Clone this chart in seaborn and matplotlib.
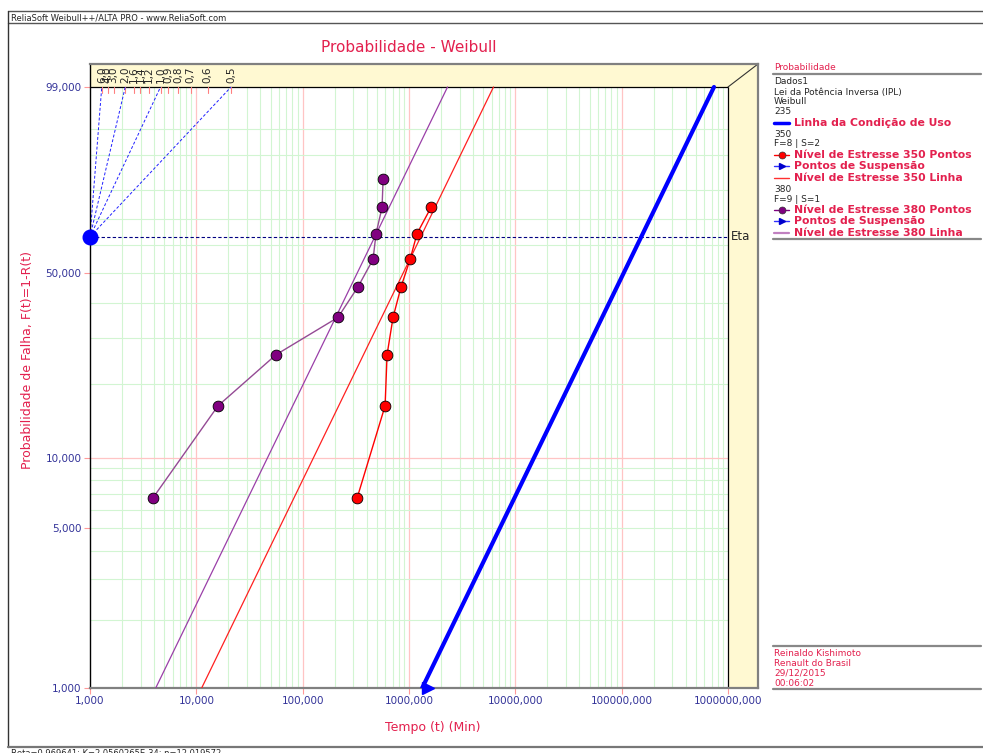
import numpy as np
import pandas as pd
import matplotlib
matplotlib.use("Agg")
import matplotlib.pyplot as plt
import seaborn as sns

# valores (tempo em Min, F em %)
f_350 = [6.73, 16.35, 25.96, 35.58, 45.19, 54.81, 64.42, 74.04]
t_350 = [325, 596, 622, 708, 843, 1024, 1190, 1610]
f_380 = [6.73, 16.35, 25.96, 35.58, 45.19, 54.81, 64.42, 74.04, 83.65]
t_380 = [3.9, 16.0, 56.2, 215, 332, 459, 490, 558, 571]
t_susp = [1510]
f_susp = [1.0]

niveis = ["235", "350", "380"]
eta = [152900, 1290, 477]
beta = 0.969641
beta_guia = [0.5, 1.0, 2.0, 6.0]
beta_escala = [0.5, 0.6, 0.7, 0.8, 0.9, 1.0, 1.2, 1.4, 1.6, 2.0, 3.0, 4.0, 6.0]

x_ticks = [1, 10, 100, 1000, 10000, 100000, 1000000]
y_ticks = [1, 5, 10, 50, 99]
y_grid = [2, 3, 4, 5, 6, 7, 8, 9, 20, 30, 40, 50, 60, 70, 80, 90, 95]

CRIMSON = "#E3204E"
NAVY = "#333399"
GREEN = "#D2F5D2"
PINK = "#FFC4C4"
CREAM = "#FFF9D2"

sns.set_style("white")
plt.rcParams["font.family"] = ["DejaVu Sans"]


def fwd(p):
    p = np.clip(np.asarray(p, dtype=float), 1e-6, 99.99999)
    return np.log(-np.log(1 - p / 100.0))


def inv(y):
    return 100.0 * (1 - np.exp(-np.exp(y)))


def weib_t(e, b, f):
    return e * (-np.log(1 - np.asarray(f) / 100.0)) ** (1.0 / b)


W, H = 983, 753
fig = plt.figure(figsize=(W / 100, H / 100), dpi=100)
ax = fig.add_axes([90 / W, 1 - 688 / H, (758 - 90) / W, (688 - 64) / H])
ax.set_xscale("log")
ax.set_yscale("function", functions=(fwd, inv))
xmax = 10 ** (6 + 30 / 106.3)
ytop = inv(np.log(-np.log(0.01)) + 23 / 98.1)
ax.set_xlim(1, xmax)
ax.set_ylim(1, ytop)

# faixas amarelas
ax.fill_between([1, xmax], 99, ytop, color=CREAM, lw=0, zorder=0)
ax.fill_between([1e6, xmax], 1, 99, color=CREAM, lw=0, zorder=0)
ax.plot([1e6, xmax], [99, ytop], color="#333333", lw=0.8, zorder=1)

# grade
for d in range(6):
    for m in range(2, 10):
        ax.vlines(m * 10 ** d, 1, 99, color=GREEN, lw=0.8, zorder=1)
    if d > 0:
        ax.vlines(10 ** d, 1, 99, color=PINK, lw=0.9, zorder=1)
ax.hlines(y_grid, 1, 1e6, color=GREEN, lw=0.8, zorder=1)
ax.hlines(10, 1, 1e6, color=PINK, lw=0.9, zorder=1)
ax.vlines(1e6, 1, 99, color="black", lw=0.9, zorder=2)
ax.hlines(99, 1, 1e6, color="black", lw=0.9, zorder=2)

# escala de beta
f_piv = inv(0.0)
for b in beta_escala:
    xb = weib_t(1, b, 99)
    ax.plot([xb, xb], [99, inv(np.log(-np.log(0.01)) - 0.06)], color="#FF8080", lw=0.8, zorder=2)
    ax.text(xb, 1 - 11 / 624, f"{b:.1f}".replace(".", ","), rotation=90, ha="center", va="center",
            fontsize=7.5, transform=ax.get_xaxis_transform())
for b in beta_guia:
    sns.lineplot(x=[1, weib_t(1, b, 99)], y=[f_piv, 99], ax=ax, color="#2020FF", lw=0.7,
                 linestyle=(0, (3, 2)), zorder=2)
ax.plot([1, 1e6], [f_piv, f_piv], color="#000080", lw=0.8, linestyle=(0, (3, 2)), zorder=2)
ax.plot([1], [f_piv], "o", color="#0000FF", ms=10.5, clip_on=False, zorder=6)
ax.text(1.07e6, f_piv, "Eta", fontsize=8.5, va="center", ha="left")

# linhas ajustadas
cores = ["#0000FF", "#FF2020", "#9A3FA8"]
larguras = [3.0, 0.9, 0.9]
for nv, e, c, lw in zip(niveis, eta, cores, larguras):
    fit = pd.DataFrame({"F": [1, 99]})
    fit["t"] = weib_t(e, beta, fit["F"])
    sns.lineplot(data=fit, x="t", y="F", ax=ax, color=c, lw=lw, sort=False, zorder=3)

# pontos
sns.lineplot(x=t_350, y=f_350, ax=ax, color="#FF0000", lw=1.0, sort=False, zorder=4)
sns.lineplot(x=t_380, y=f_380, ax=ax, color="#944A94", lw=1.0, sort=False, zorder=4)
sns.scatterplot(x=t_350, y=f_350, ax=ax, color="#FF0000", s=60, edgecolor="black", linewidth=0.6, zorder=5)
sns.scatterplot(x=t_380, y=f_380, ax=ax, color="#800080", s=60, edgecolor="black", linewidth=0.6, zorder=5)
ax.plot(t_susp, f_susp, ">", color="#0000FF", ms=8, clip_on=False, zorder=6)

# eixos
ax.set_xticks(x_ticks)
ax.set_xticklabels([f"{v:.3f}".replace(".", ",") for v in x_ticks])
ax.set_yticks(y_ticks)
ax.set_yticklabels([f"{v:.3f}".replace(".", ",") for v in y_ticks])
ax.xaxis.set_minor_locator(matplotlib.ticker.NullLocator())
ax.yaxis.set_minor_locator(matplotlib.ticker.NullLocator())
ax.tick_params(axis="both", labelsize=7.5, labelcolor=NAVY, color="#FF9999", length=4, width=0.8, pad=2,
               left=True, bottom=True)
for s in ["top", "right", "bottom"]:
    ax.spines[s].set_color("#808080")
    ax.spines[s].set_linewidth(1.6)
ax.spines["left"].set_color("black")
ax.spines["left"].set_linewidth(1.0)
ax.set_xlabel("")
ax.set_ylabel("")

fig.text(409 / W, 1 - 47 / H, "Probabilidade - Weibull", color=CRIMSON, fontsize=11, ha="center", va="center")
fig.text(433 / W, 1 - 727 / H, "Tempo (t) (Min)", color=CRIMSON, fontsize=9, ha="center", va="center")
fig.text(28 / W, 1 - 360 / H, "Probabilidade de Falha, F(t)=1-R(t)", color=CRIMSON, fontsize=9,
         rotation=90, ha="center", va="center")

# moldura e painel da direita (coordenadas em pixels)
ov = fig.add_axes([0, 0, 1, 1], zorder=10)
ov.set_xlim(0, W)
ov.set_ylim(H, 0)
ov.axis("off")
ov.patch.set_alpha(0)
ov.plot([8, W], [11, 11], color="#555555", lw=1)
ov.plot([8, W], [23, 23], color="#555555", lw=1)
ov.plot([8, 8], [11, 747], color="#333333", lw=1)
ov.plot([8, W], [747, 747], color="#777777", lw=1.6)
ov.text(11, 17.5, "ReliaSoft Weibull++/ALTA PRO - www.ReliaSoft.com", fontsize=6, va="center")
ov.text(11, 749, "Beta=0,969641; K=2,0560265E-34; n=12,019572", fontsize=6, va="top")

for yy in [74, 239, 646, 689]:
    ov.plot([773, 981], [yy, yy], color="#888888", lw=1.6)
ov.text(774, 67.7, "Probabilidade", color=CRIMSON, fontsize=6.5, va="center")
for yy, s in [(81.7, "Dados1"), (92.7, "Lei da Potência Inversa (IPL)"), (101.7, "Weibull"),
              (111.7, "235"), (134, "350"), (143.7, "F=8 | S=2"), (189, "380"), (199.3, "F=9 | S=1")]:
    ov.text(774, yy, s, fontsize=6.5, va="center")

leg = [(123.3, "Linha da Condição de Uso", "#0000FF", None, 2.5),
       (155, "Nível de Estresse 350 Pontos", "#FF0000", "o", 1.0),
       (166, "Pontos de Suspensão", "#3030FF", ">", 1.0),
       (178.3, "Nível de Estresse 350 Linha", "#FF3030", None, 1.0),
       (210.3, "Nível de Estresse 380 Pontos", "#800080", "o", 1.0),
       (221, "Pontos de Suspensão", "#3030FF", ">", 1.0),
       (233.3, "Nível de Estresse 380 Linha", "#C080C0", None, 1.6)]
for yy, s, c, mk, lw in leg:
    ov.plot([774, 789], [yy, yy], color=c, lw=lw)
    if mk == "o":
        ov.plot([781.5], [yy], "o", color=c, ms=5, mec="#333333", mew=0.5)
    elif mk == ">":
        ov.plot([781.5], [yy], ">", color="#0000CC", ms=5)
    ov.text(794, yy, s, color=CRIMSON, fontsize=7.8, fontweight="bold", va="center")

for yy, s in [(653, "Reinaldo Kishimoto"), (663, "Renault do Brasil"), (673, "29/12/2015"), (683, "00:06:02")]:
    ov.text(774, yy, s, color=CRIMSON, fontsize=6.5, va="center")

fig.savefig("out.png", dpi=100)
